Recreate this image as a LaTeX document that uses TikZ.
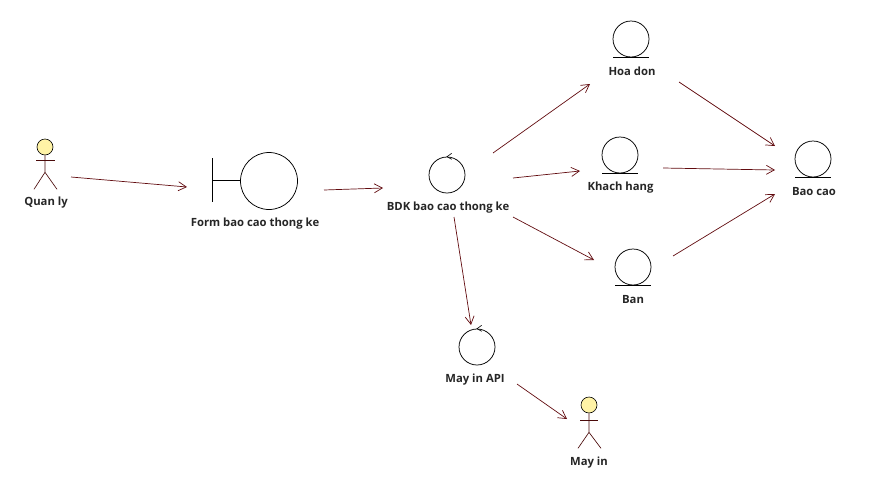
\documentclass[tikz,border=0pt]{standalone}
\usepackage{fontspec}
\setmainfont{Open Sans}
\usetikzlibrary{arrows.meta,calc}
\definecolor{rosered}{HTML}{620C10}
\definecolor{headfill}{HTML}{FFF3A6}
\definecolor{actorline}{HTML}{4A0A0A}
\tikzset{
  x=1pt,y=-1pt,
  glyph/.style={circle,draw=black,line width=0.75pt,minimum size=36pt,inner sep=0pt,fill=white},
  bigglyph/.style={glyph,minimum size=57pt},
  head/.style={circle,draw=black,line width=0.6pt,fill=headfill,minimum size=16pt,inner sep=0pt},
  glyphline/.style={draw=black,line width=0.8pt},
  tick/.style={draw=black,line width=0.6pt},
  limb/.style={draw=actorline,line width=0.65pt},
  label/.style={font=\fontsize{11.3}{13}\selectfont\bfseries,text=black!85,inner sep=0pt,yshift=-1.2pt},
  flow/.style={draw=rosered,line width=0.7pt,-{Straight Barb[length=8pt,width=9pt,line width=0.7pt]}}
}
\begin{document}
\begin{tikzpicture}
\useasboundingbox (0,0) rectangle (873,493);
% actors
\node[head] (quan) at (45,147) {};
\draw[limb] (quan.south) -- ++(0,17) -- ++(-11,17) ++(11,-17) -- ++(12,17);
\draw[limb] ($(quan)+(-9,13.5)$) -- ++(19,0);
\node[label] (quanl) at (46,201) {Quan ly};
\node[head] (mayin) at (589,405) {};
\draw[limb] (mayin.south) -- ++(0,19) -- ++(-11,16) ++(11,-16) -- ++(12,16);
\draw[limb] ($(mayin)+(-9,15)$) -- ++(18,0);
\node[label] (mayinl) at (589,461) {May in};
% boundary
\node[bigglyph] (form) at (269,181) {};
\coordinate (formbar) at (212.5,180);
\draw[glyphline] ($(formbar)+(0,-22)$) -- ($(formbar)+(0,22)$);
\draw[glyphline] (formbar) -- (form.west |- formbar);
\node[label] (forml) at (255,222) {Form bao cao thong ke};
% controls
\node[glyph] (bdk) at (447,175) {};
\draw[tick] ($(bdk)+(4.7,-21.7)$) -- ($(bdk)+(0,-18.3)$) -- ($(bdk)+(4.7,-15.7)$);
\node[label] (bdkl) at (448,206) {BDK bao cao thong ke};
\node[glyph] (api) at (477,347) {};
\draw[tick] ($(api)+(4.7,-21.7)$) -- ($(api)+(0,-18.3)$) -- ($(api)+(4.7,-15.7)$);
\node[label] (apil) at (475,378) {May in API};
% entities
\foreach \nm/\px/\py/\lx/\ly/\txt in {hoa/631/39/632/70/Hoa don,khach/620/155/620.5/186/Khach hang,bao/813/159/814/190/Bao cao,ban/633/267/633/298/Ban}{
  \node[glyph] (\nm) at (\px,\py) {};
  \draw[glyphline] ($(\nm.south)+(-18,0)$) -- ($(\nm.south)+(18,0)$);
  \node[label] (\nm l) at (\lx,\ly) {\txt};
}
% connectors
\draw[flow] ($(quan)+(26,30)$) -- ($(form)+(-82,6)$);
\draw[flow] ($(form)+(55,9)$) -- ($(bdk)+(-64,13)$);
\draw[flow] ($(bdk)+(46,-22)$) -- ($(hoa)+(-41,45)$);
\draw[flow] ($(bdk)+(66,3)$) -- ($(khach)+(-40,16)$);
\draw[flow] ($(bdk)+(66,42)$) -- ($(ban)+(-39,-7)$);
\draw[flow] ($(bdk)+(7,42)$) -- ($(api)+(-6,-22)$);
\draw[flow] ($(api)+(40,37)$) -- ($(mayin)+(-22,14)$);
\draw[flow] ($(hoa)+(48,43)$) -- ($(bao)+(-38,-13)$);
\draw[flow] ($(khach)+(43,13)$) -- ($(bao)+(-38,11)$);
\draw[flow] ($(ban)+(40,-11)$) -- ($(bao)+(-38,35)$);
\end{tikzpicture}
\end{document}
